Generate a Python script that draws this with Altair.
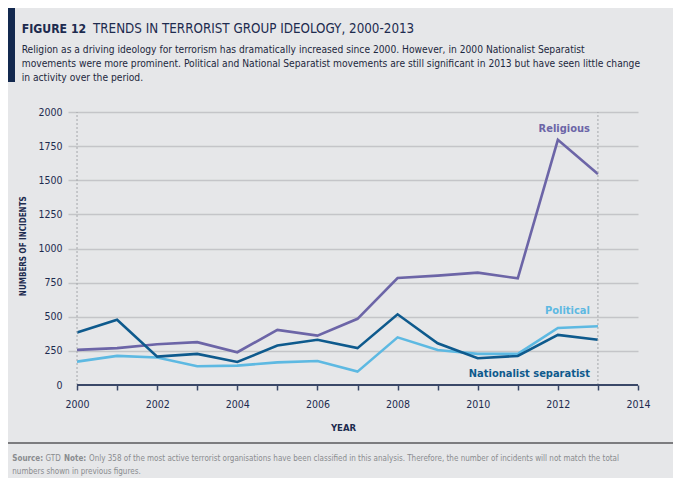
import altair as alt
import pandas as pd

years = list(range(2000, 2014))
religious = [257, 270, 299, 314, 240, 404, 362, 485, 784, 801, 823, 781, 1796, 1545]
political = [171, 213, 201, 137, 142, 166, 176, 98, 349, 257, 228, 228, 418, 430]
nationalist = [384, 478, 208, 228, 169, 289, 331, 270, 518, 306, 196, 213, 367, 331]

series_names = ["Religious", "Political", "Nationalist separatist"]
series_colors = ["#6c65a7", "#5db9e2", "#0e5a8d"]
label_y = [1851, 518, 61]

y_ticks = [0, 250, 500, 750, 1000, 1250, 1500, 1750, 2000]
x_ticks = list(range(2000, 2015))
dashed_years = [2000, 2013]

title_bold = "FIGURE 12"
title_rest = "TRENDS IN TERRORIST GROUP IDEOLOGY, 2000-2013"
subtitle = [
    "Religion as a driving ideology for terrorism has dramatically increased since 2000. However, in 2000 Nationalist Separatist",
    "movements were more prominent. Political and National Separatist movements are still significant in 2013 but have seen little change",
    "in activity over the period.",
]
footer = [
    ("Source:", True), ("GTD", False), ("Note:", True),
    ("Only 358 of the most active terrorist organisations have been classified in this analysis. Therefore, the number of incidents will not match the total", False),
]
footer2 = "numbers shown in previous figures."

FONT = "DejaVu Sans Condensed, Liberation Sans Narrow, Roboto"
NAVY = "#1d2b4f"
BG = "#e6e7e9"

rows = []
for name, vals in zip(series_names, [religious, political, nationalist]):
    for yr, v in zip(years, vals):
        rows.append({"year": yr, "value": v, "series": name})
df = pd.DataFrame(rows)

xs = alt.Scale(domain=[1999.775, 2014], nice=False, zero=False)
ys = alt.Scale(domain=[0, 2000], nice=False)
color = alt.Color("series:N", scale=alt.Scale(domain=series_names, range=series_colors), legend=None)

x_axis = alt.Axis(
    values=x_ticks, grid=False, domain=False, ticks=True, tickSize=5, tickWidth=1.5,
    tickColor="#3a4868", labelExpr="datum.value % 2 == 0 ? datum.value : ''",
    labelOverlap=False, labelFlush=False,
    labelFont=FONT, labelFontSize=10.5, labelColor=NAVY, labelPadding=9,
    title="YEAR", titleFont=FONT, titleFontSize=9.5, titleFontWeight="bold",
    titleColor=NAVY, titleX=275, titleY=45, titleBaseline="alphabetic",
    titleAlign="center")
y_axis = alt.Axis(
    values=y_ticks, grid=True, format="d", labelOverlap=False, labelFlush=False,
    gridColor={"condition": {"test": "datum.value === 0", "value": "transparent"}, "value": "#c4c5c8"},
    gridWidth=1.3, domain=False, ticks=False, tickSize=0, labelPadding=6,
    labelFont=FONT, labelFontSize=10.5, labelColor=NAVY,
    title="NUMBERS OF INCIDENTS", titleFont=FONT, titleFontSize=8, titleFontWeight="bold",
    titleColor=NAVY, titleAngle=-90, titleX=-44.7, titleY=133.7,
    titleAlign="center", titleBaseline="middle")

lines = alt.Chart(df).mark_line(strokeWidth=2.6).encode(
    x=alt.X("year:Q", scale=xs, axis=x_axis),
    y=alt.Y("value:Q", scale=ys, axis=y_axis),
    color=color,
)

dash_df = pd.DataFrame({"year": dashed_years, "lo": [0, 0], "hi": [2000, 2000]})
dashes = alt.Chart(dash_df).mark_rule(color="#a5a7aa", strokeDash=[2, 2], strokeWidth=1).encode(
    x=alt.X("year:Q", scale=xs, axis=x_axis), y=alt.Y("lo:Q", scale=ys, axis=y_axis), y2="hi:Q")

axis_df = pd.DataFrame({"a": [x_ticks[0]], "b": [x_ticks[-1]], "v": [0]})
axis_line = alt.Chart(axis_df).mark_rule(color="#3a4868", strokeWidth=2).encode(
    x=alt.X("a:Q", scale=xs, axis=x_axis), x2="b:Q", y=alt.Y("v:Q", scale=ys, axis=y_axis))

lab_df = pd.DataFrame({"series": series_names, "year": [2013] * 3, "value": label_y})
labels = alt.Chart(lab_df).mark_text(align="right", baseline="alphabetic", dx=-8,
                                     font=FONT, fontSize=11, fontWeight="bold").encode(
    x=alt.X("year:Q", scale=xs, axis=x_axis), y=alt.Y("value:Q", scale=ys, axis=y_axis),
    text="series:N", color=color)

one = pd.DataFrame({"a": [0]})
OX, OY = 68, 112  # page position of plot origin


def txt(s, px, py, size, weight="normal", col=NAVY):
    return alt.Chart(one).mark_text(text=s, align="left", baseline="alphabetic", font=FONT,
                                    fontSize=size, fontWeight=weight, color=col).encode(
        x=alt.value(px - OX), y=alt.value(py - OY))


bar = alt.Chart(one).mark_rect(color="#13294f").encode(
    x=alt.value(8 - OX), x2=alt.value(15 - OX), y=alt.value(8 - OY), y2=alt.value(82 - OY))

header = [bar, txt(title_bold, 21.7, 33, 12.2, "bold"), txt(title_rest, 93, 33, 13.3)]
for i, line in enumerate(subtitle):
    header.append(txt(line, 21.7, 53 + i * 13.8, 10.2, col="#1d2740"))

sep = alt.Chart(one).mark_rule(color="#58595b", strokeWidth=1.5).encode(
    x=alt.value(8 - OX), x2=alt.value(673 - OX), y=alt.value(443 - OY))

fx = [12.3, 45.5, 64, 89]
foot = [sep]
for (s, b), x0 in zip(footer, fx):
    foot.append(txt(s, x0, 460.5, 8.0, "bold" if b else "normal", "#8a8c8f"))
foot.append(txt(footer2, 12.3, 474, 8.0, "normal", "#8a8c8f"))

chart = alt.layer(lines, dashes, axis_line, labels, *header, *foot).properties(
    width=570, height=273,
    autosize=alt.AutoSizeParams(type="none"),
    padding={"left": 60, "top": 104, "right": 35, "bottom": 93},
    background=BG,
).configure_view(stroke=None)

chart.save("out.html", embed_options={"renderer": "svg", "actions": False})
